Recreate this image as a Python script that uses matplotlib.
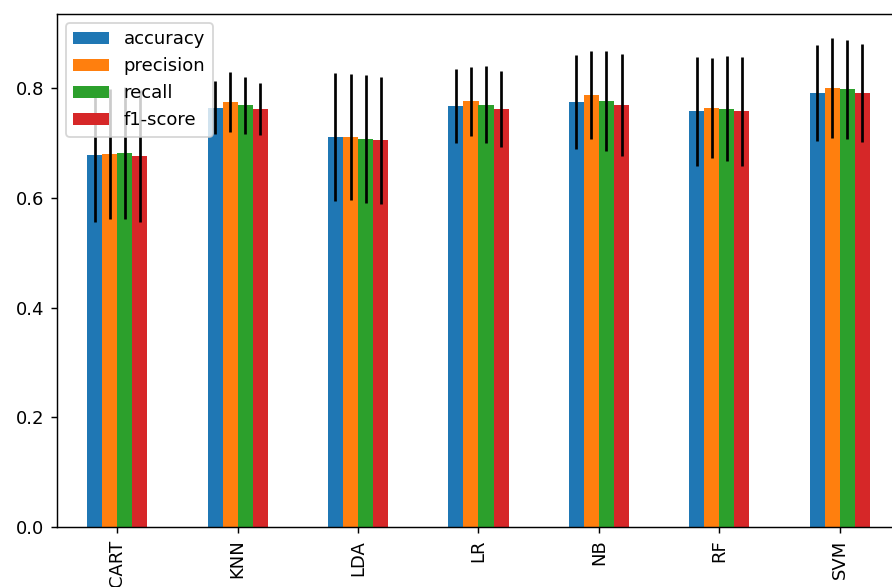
import matplotlib
matplotlib.use('Agg')
import matplotlib.pyplot as plt
import pandas as pd

# Cross-validated scores per model: mean and standard deviation
models = ['CART', 'KNN', 'LDA', 'LR', 'NB', 'RF', 'SVM']
metrics = ['accuracy', 'precision', 'recall', 'f1-score']

accuracy_mean = [0.679, 0.765, 0.7115, 0.768, 0.775, 0.7585, 0.7915]
precision_mean = [0.680, 0.775, 0.7115, 0.776, 0.7875, 0.7645, 0.800]
recall_mean = [0.682, 0.769, 0.7075, 0.7705, 0.7765, 0.763, 0.798]
f1_mean = [0.677, 0.762, 0.705, 0.7625, 0.769, 0.758, 0.7915]

accuracy_std = [0.122, 0.049, 0.117, 0.067, 0.085, 0.0995, 0.0875]
precision_std = [0.118, 0.055, 0.115, 0.063, 0.0805, 0.0915, 0.091]
recall_std = [0.120, 0.052, 0.117, 0.0695, 0.0915, 0.096, 0.091]
f1_std = [0.120, 0.048, 0.116, 0.070, 0.093, 0.099, 0.0885]

means = pd.DataFrame({
    'accuracy': accuracy_mean,
    'precision': precision_mean,
    'recall': recall_mean,
    'f1-score': f1_mean,
}, index=models)[metrics]

stds = pd.DataFrame({
    'accuracy': accuracy_std,
    'precision': precision_std,
    'recall': recall_std,
    'f1-score': f1_std,
}, index=models)[metrics]

DPI = 130
fig = plt.figure(figsize=(892 / DPI, 587 / DPI), dpi=DPI)
ax = fig.add_axes([57 / 892, 60 / 587, 843 / 892, 513 / 587])

means.plot(kind='bar', yerr=stds, ax=ax)

fig.savefig('out.png', dpi=DPI)
